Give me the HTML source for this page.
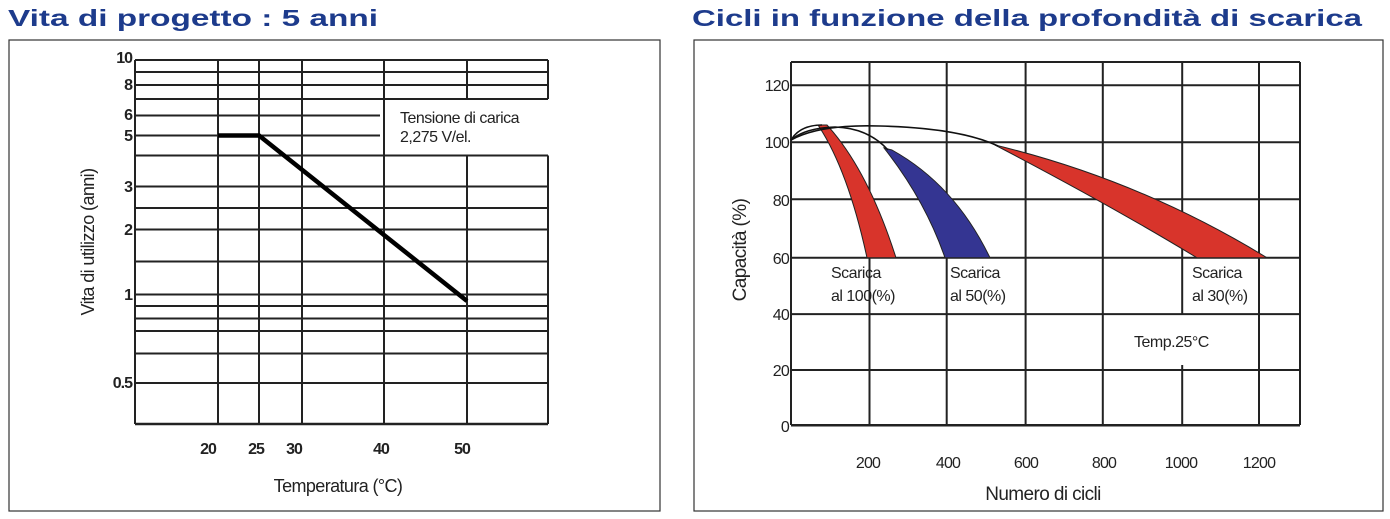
<!DOCTYPE html>
<html><head><meta charset="utf-8"><style>
html,body{margin:0;padding:0;background:#fff;}
svg{display:block;}
.t{font-family:"Liberation Sans",sans-serif;font-weight:bold;fill:#1d3b8c;font-size:23px;}
.n{font-family:"Liberation Sans Narrow","Liberation Sans",sans-serif;fill:#222;}
.b{font-weight:bold;letter-spacing:-1px;}
</style></head><body>
<svg width="1390" height="519" viewBox="0 0 1390 519" xmlns="http://www.w3.org/2000/svg">
<rect width="1390" height="519" fill="#fff"/>
<text class="t" x="8" y="26" textLength="370" lengthAdjust="spacingAndGlyphs">Vita di progetto : 5 anni</text>
<text class="t" x="692" y="26" textLength="670" lengthAdjust="spacingAndGlyphs">Cicli in funzione della profondità di scarica</text>

<!-- Left panel -->
<rect x="9" y="40" width="651" height="471" fill="none" stroke="#333" stroke-width="1.2"/>
<g stroke="#222" stroke-width="2">
<line x1="135" y1="60" x2="548" y2="60"/>
<line x1="135" y1="72" x2="548" y2="72"/>
<line x1="135" y1="85" x2="548" y2="85"/>
<line x1="135" y1="99" x2="548" y2="99"/>
<line x1="135" y1="115.5" x2="380" y2="115.5"/>
<line x1="135" y1="135.5" x2="380" y2="135.5"/>
<line x1="135" y1="155.5" x2="548" y2="155.5"/>
<line x1="135" y1="186.5" x2="548" y2="186.5"/>
<line x1="135" y1="208" x2="548" y2="208"/>
<line x1="135" y1="229.5" x2="548" y2="229.5"/>
<line x1="135" y1="261.5" x2="548" y2="261.5"/>
<line x1="135" y1="294.5" x2="548" y2="294.5"/>
<line x1="135" y1="306" x2="548" y2="306"/>
<line x1="135" y1="318.5" x2="548" y2="318.5"/>
<line x1="135" y1="331" x2="548" y2="331"/>
<line x1="135" y1="353.5" x2="548" y2="353.5"/>
<line x1="135" y1="383" x2="548" y2="383"/>
<line x1="135" y1="424" x2="548" y2="424" stroke-width="2.5"/>
<line x1="135" y1="60" x2="135" y2="424"/>
<line x1="548" y1="60" x2="548" y2="99"/>
<line x1="548" y1="155.5" x2="548" y2="424"/>
<line x1="218" y1="60" x2="218" y2="424"/>
<line x1="259" y1="60" x2="259" y2="424"/>
<line x1="302" y1="60" x2="302" y2="424"/>
<line x1="384" y1="60" x2="384" y2="424"/>
<line x1="467" y1="60" x2="467" y2="99"/>
<line x1="467" y1="155.5" x2="467" y2="424"/>
</g>
<polyline points="218,135.5 259,135.5 467,301" fill="none" stroke="#000" stroke-width="4.5"/>
<g class="n b" font-size="16" text-anchor="end">
<text x="132" y="63">10</text><text x="132" y="90">8</text><text x="132" y="120">6</text>
<text x="132" y="141">5</text><text x="132" y="192">3</text><text x="132" y="235">2</text>
<text x="132" y="300">1</text><text x="132" y="388">0.5</text>
</g>
<g class="n b" font-size="16" text-anchor="middle">
<text x="208" y="454">20</text><text x="256" y="454">25</text><text x="294" y="454">30</text>
<text x="381" y="454">40</text><text x="462" y="454">50</text>
</g>
<text class="n" x="400" y="123" font-size="16" letter-spacing="-0.5">Tensione di carica</text>
<text class="n" x="400" y="142" font-size="16" letter-spacing="-0.5">2,275 V/el.</text>
<text class="n" x="338" y="492" font-size="18" text-anchor="middle" letter-spacing="-0.6">Temperatura (°C)</text>
<text class="n" font-size="18" text-anchor="middle" letter-spacing="-0.6" transform="translate(94,242) rotate(-90)">Vita di utilizzo (anni)</text>

<!-- Right panel -->
<rect x="694" y="40" width="689" height="471" fill="none" stroke="#333" stroke-width="1.2"/>
<g stroke="#222" stroke-width="2">
<line x1="791" y1="62" x2="1300" y2="62"/>
<line x1="791" y1="85.3" x2="1300" y2="85.3"/>
<line x1="791" y1="142.2" x2="1300" y2="142.2"/>
<line x1="791" y1="199.2" x2="1300" y2="199.2"/>
<line x1="791" y1="257.8" x2="1300" y2="257.8"/>
<line x1="791" y1="314.1" x2="1300" y2="314.1"/>
<line x1="791" y1="370" x2="1300" y2="370"/>
<line x1="791" y1="425.3" x2="1300" y2="425.3" stroke-width="2.5"/>
<line x1="791" y1="62" x2="791" y2="425"/>
<line x1="869.5" y1="62" x2="869.5" y2="425"/>
<line x1="946.7" y1="62" x2="946.7" y2="425"/>
<line x1="1025.6" y1="62" x2="1025.6" y2="425"/>
<line x1="1102.8" y1="62" x2="1102.8" y2="425"/>
<line x1="1182.2" y1="62" x2="1182.2" y2="314"/>
<line x1="1182.2" y1="365" x2="1182.2" y2="425"/>
<line x1="1259" y1="62" x2="1259" y2="425"/>
<line x1="1300" y1="62" x2="1300" y2="425"/>
</g>
<path d="M818,125 Q848,170 867,257.8 L896,257.8 Q868,170 827,125 Z" fill="#d8342b" stroke="#222" stroke-width="1"/>
<path d="M884,148 Q925,200 945,257.8 L990,257.8 Q955,185 892,150 Z" fill="#343592" stroke="#222" stroke-width="1"/>
<path d="M995,145 Q1110,205 1197,257.8 L1267,257.8 Q1140,180 995,145 Z" fill="#d8342b" stroke="#222" stroke-width="1"/>
<g fill="none" stroke="#111" stroke-width="1.6">
<path d="M791,140 Q800,125 822,125"/>
<path d="M791,140 Q805,128 835,127 Q868,128 888,150"/>
<path d="M791,140 Q820,124 880,126 Q960,128 998,146"/>
</g>
<g class="n" font-size="16" text-anchor="end" letter-spacing="-0.8">
<text x="789" y="91">120</text><text x="789" y="148">100</text><text x="789" y="206">80</text>
<text x="789" y="264">60</text><text x="789" y="320">40</text><text x="789" y="376">20</text>
<text x="789" y="432">0</text>
</g>
<g class="n" font-size="16" text-anchor="middle" letter-spacing="-0.8">
<text x="868" y="468">200</text><text x="948" y="468">400</text><text x="1026" y="468">600</text>
<text x="1104" y="468">800</text><text x="1181" y="468">1000</text><text x="1259" y="468">1200</text>
</g>
<g class="n" font-size="16" letter-spacing="-0.5">
<text x="831" y="278">Scarica</text><text x="831" y="301">al 100(%)</text>
<text x="950" y="278">Scarica</text><text x="950" y="301">al 50(%)</text>
<text x="1192" y="278">Scarica</text><text x="1192" y="301">al 30(%)</text>
<text x="1134" y="347">Temp.25°C</text>
</g>
<text class="n" x="1043" y="500" font-size="19" text-anchor="middle" letter-spacing="-0.6">Numero di cicli</text>
<text class="n" font-size="19" text-anchor="middle" letter-spacing="-0.6" transform="translate(746,250) rotate(-90)">Capacità (%)</text>
</svg>
</body></html>
